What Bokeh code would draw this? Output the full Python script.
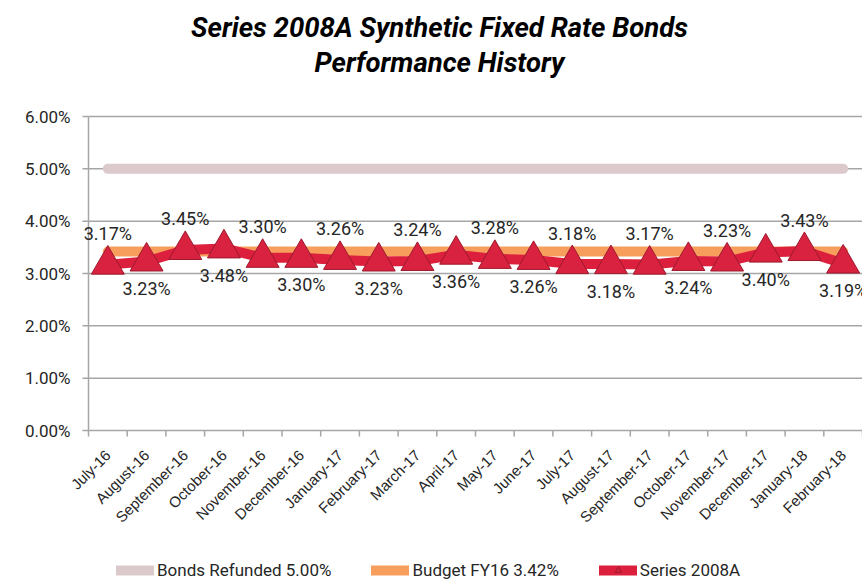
from math import pi
from bokeh.plotting import figure
from bokeh.models import Range1d, Legend, LegendItem, ColumnDataSource, Label
from bokeh.embed import file_html
from bokeh.resources import INLINE
from bokeh.core.properties import value

# ---------------- data ----------------
months = ["July-16", "August-16", "September-16", "October-16", "November-16",
          "December-16", "January-17", "February-17", "March-17", "April-17",
          "May-17", "June-17", "July-17", "August-17", "September-17",
          "October-17", "November-17", "December-17", "January-18", "February-18"]
series_2008a = [3.17, 3.23, 3.45, 3.48, 3.30, 3.30, 3.26, 3.23, 3.24, 3.36,
                3.28, 3.26, 3.18, 3.18, 3.17, 3.24, 3.23, 3.40, 3.43, 3.19]
bonds_refunded = 5.00
budget_fy16 = 3.42
y_ticks = [0, 1, 2, 3, 4, 5, 6]
y_tick_labels = ["0.00%", "1.00%", "2.00%", "3.00%", "4.00%", "5.00%", "6.00%"]
title_lines = ["Series 2008A Synthetic Fixed Rate Bonds", "Performance History"]
legend_labels = ["Bonds Refunded 5.00%", "Budget FY16 3.42%", "Series 2008A"]

# ---------------- styles / layout ----------------
GRAY = "#a6a6a6"
TXT = "#262626"
C_REFUND = "#dcc9cc"
C_BUDGET = "#f89e5c"
C_SERIES = "#dc1f3d"
FONT = "Roboto"

W, H = 862, 583
LEFT = 88                # pixel column of the value axis
ZERO_Y = 430             # pixel row of 0.00%
PX = 52.33               # pixels per 1%
n = len(months)
xs = [i + 0.5 for i in range(n)]
CAT_PX = (W - LEFT) / n  # pixels per category

p = figure(frame_width=W, frame_height=H, min_border=0,
           x_range=Range1d(-LEFT / CAT_PX, n),
           y_range=Range1d(-(H - ZERO_Y) / PX, ZERO_Y / PX),
           output_backend="svg", toolbar_location=None,
           background_fill_color="white", border_fill_color="white",
           outline_line_color=None)
p.xaxis.visible = False
p.yaxis.visible = False
p.xgrid.visible = False
p.ygrid.visible = False

m = len(y_ticks)
# horizontal gridlines
p.segment(x0=[0] * m, y0=y_ticks, x1=[n] * m, y1=y_ticks,
          line_color=GRAY, line_width=1.5)
# value axis line, ticks and labels
p.segment(x0=[0], y0=[y_ticks[0]], x1=[0], y1=[y_ticks[-1]],
          line_color=GRAY, line_width=1.5)
p.segment(x0=[-6 / CAT_PX] * m, y0=y_ticks, x1=[0] * m, y1=y_ticks,
          line_color=GRAY, line_width=1.5)
p.text(x=[0] * m, y=y_ticks, text=y_tick_labels, x_offset=-18,
       text_align="right", text_baseline="middle",
       text_font=value(FONT), text_font_size="17px", text_color=TXT)

# category axis ticks (between categories) and rotated labels
bounds = list(range(n + 1))
p.segment(x0=bounds, y0=[0] * (n + 1), x1=bounds, y1=[-6 / PX] * (n + 1),
          line_color=GRAY, line_width=1.5)
p.text(x=xs, y=[0] * n, text=months, angle=pi / 4,
       x_offset=0, y_offset=22,
       text_align="right", text_baseline="middle",
       text_font=value("Liberation Sans"), text_font_size="15px",
       text_color=TXT)

# lines
r1 = p.line(xs, [bonds_refunded] * n, line_color=C_REFUND, line_width=10,
            line_cap="round")
r2 = p.line(xs, [budget_fy16] * n, line_color=C_BUDGET, line_width=10,
            line_cap="round")
r3 = p.line(xs, series_2008a, line_color=C_SERIES, line_width=10,
            line_cap="round", line_join="round")
r3m = p.scatter(xs, series_2008a, marker="triangle", size=33,
                fill_color="#d8223f", line_color="#9c1a2e", line_width=1)

# data labels (alternating above / below)
src = ColumnDataSource(dict(
    x=xs, y=series_2008a,
    t=["%.2f%%" % v for v in series_2008a],
    off=[-31 if i % 2 == 0 else 27 for i in range(n)],
))
p.text(x="x", y="y", text="t", y_offset="off", source=src,
       text_align="center", text_baseline="middle",
       text_font=value(FONT), text_font_size="18px", text_color=TXT)

# title
for line, row in zip(title_lines, [27, 62]):
    p.add_layout(Label(x=(439 - LEFT) / CAT_PX, y=(ZERO_Y - row) / PX,
                       text=line, text_align="center", text_baseline="middle",
                       text_font=FONT, text_font_size="27.5px",
                       text_font_style="bold italic", text_color="black"))

# legend at the bottom
legend = Legend(items=[
    LegendItem(label=legend_labels[0], renderers=[r1]),
    LegendItem(label=legend_labels[1], renderers=[r2]),
    LegendItem(label=legend_labels[2], renderers=[r3, r3m]),
], orientation="horizontal", location=(120 - 4, 3),
    glyph_width=38, glyph_height=16, label_standoff=3, spacing=40,
    label_text_font=FONT, label_text_font_size="17px", label_text_color=TXT,
    border_line_color=None, background_fill_alpha=0, padding=4, margin=0)
p.add_layout(legend, "center")

open("out.html", "w").write(file_html(p, INLINE))
